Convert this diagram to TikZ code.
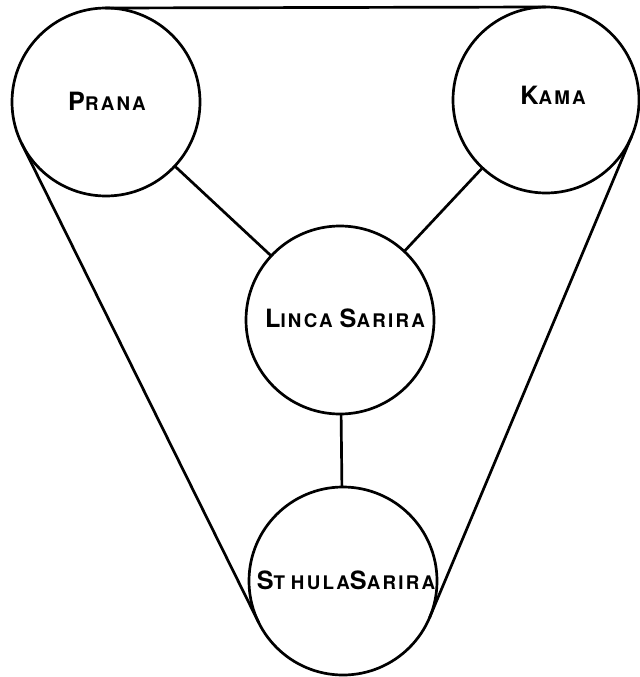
\documentclass[tikz,border=0pt]{standalone}
\usepackage{fontspec}
\usetikzlibrary{calc}
\newfontfamily\labelfont[LetterSpace=12]{TeX Gyre Heros}
% small-capital look: large initial, smaller capitals after it
\newcommand\capword[2]{{\fontsize{21.5}{22}\selectfont #1}{\fontsize{16}{18}\selectfont #2}}
\newcommand\lowcaps[1]{{\fontsize{16}{18}\selectfont #1}}
\begin{document}
\begin{tikzpicture}[x=0.3mm,y=-0.3mm,
  line width=2.3pt,
  principle/.style={circle, draw, inner sep=0pt, minimum size=56.4mm},
  name text/.style={font=\labelfont\bfseries, inner sep=0pt},
  link/.style={draw, line cap=round},
  belt/.style={draw, line cap=round}]
\useasboundingbox (0,0) rectangle (639,677);

% the four principles
\node[principle] (prana)  at (106,102) {};
\node[principle, minimum size=55.8mm] (kama) at (546,100) {};
\node[principle] (linga)  at (340,320) {};
\node[principle] (sthula) at (343,581) {};

% their names
\node[name text] (prananame)  at (107,101) {\capword{P}{RANA}};
\node[name text] (kamaname)   at (553,95)  {\capword{K}{AMA}};
\node[name text] (linganame)  at (345,318) {\capword{L}{INCA}\hspace{6pt}\capword{S}{ARIRA}};
\node[name text] (sthulaname) at (346,580) {\capword{S}{T}\hspace{5pt}\lowcaps{HULA}\capword{S}{ARIRA}};

% links to the central principle
\draw[link] (prana) -- (linga);
\draw[link] (kama) -- (linga);
\draw[link] (linga) -- (sthula);

% outer band: common tangents around prana, kama and sthula
\def\R{28.2mm}
\coordinate (pt) at ($(prana.center)!\R!90:(kama.center)$);
\coordinate (kt) at ($(kama.center)!27.9mm!-90:(prana.center)$);
\coordinate (pl) at ($(prana.center)!\R!-90:(sthula.center)$);
\coordinate (sl) at ($(sthula.center)!\R!90:(prana.center)$);
\coordinate (kr) at ($(kama.center)!27.9mm!90:(sthula.center)$);
\coordinate (sr) at ($(sthula.center)!\R!-90:(kama.center)$);
\draw[belt] (pt) -- (kt);
\draw[belt] (pl) -- (sl);
\draw[belt] (kr) -- (sr);
\end{tikzpicture}
\end{document}
